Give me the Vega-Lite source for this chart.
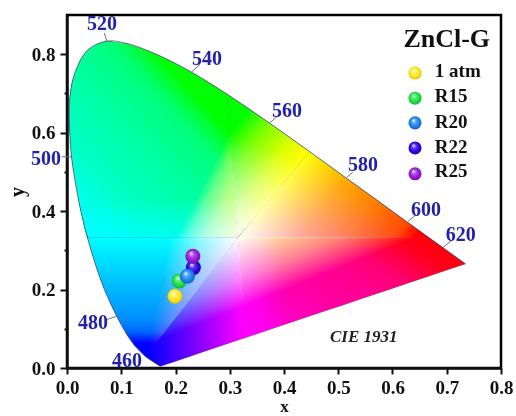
{"$schema":"https://vega.github.io/schema/vega-lite/v6.json","width":434,"height":353,"autosize":{"type":"none"},"padding":{"left":67,"top":15,"right":15,"bottom":48},"background":"white","view":{"stroke":"black","strokeWidth":2.5},
"datasets":{
"base":[{"x":0.0039,"up":0.6548,"lo":0.6548},{"x":0.005,"up":0.688,"lo":0.6},{"x":0.0082,"up":0.722,"lo":0.5384},{"x":0.0139,"up":0.7502,"lo":0.488},{"x":0.0235,"up":0.783,"lo":0.4127},{"x":0.0335,"up":0.803,"lo":0.35},{"x":0.0385,"up":0.811,"lo":0.329},{"x":0.0454,"up":0.817,"lo":0.295},{"x":0.0568,"up":0.8265,"lo":0.2455},{"x":0.0687,"up":0.8318,"lo":0.2007},{"x":0.0743,"up":0.8338,"lo":0.1838},{"x":0.08,"up":0.833,"lo":0.165},{"x":0.0913,"up":0.8306,"lo":0.1327},{"x":0.1096,"up":0.8271,"lo":0.0868},{"x":0.1241,"up":0.8212,"lo":0.0578},{"x":0.144,"up":0.8113,"lo":0.0297},{"x":0.1566,"up":0.8047,"lo":0.0177},{"x":0.1644,"up":0.7997,"lo":0.0109},{"x":0.1714,"up":0.7953,"lo":0.0051},{"x":0.1741,"up":0.7936,"lo":0.005},{"x":0.1929,"up":0.7816,"lo":0.0137},{"x":0.2296,"up":0.7543,"lo":0.0308},{"x":0.2658,"up":0.7243,"lo":0.0476},{"x":0.3016,"up":0.6923,"lo":0.0642},{"x":0.3373,"up":0.6589,"lo":0.0808},{"x":0.3731,"up":0.6245,"lo":0.0974},{"x":0.4087,"up":0.5896,"lo":0.1139},{"x":0.4441,"up":0.5547,"lo":0.1304},{"x":0.4788,"up":0.5202,"lo":0.1465},{"x":0.5125,"up":0.4866,"lo":0.1621},{"x":0.5448,"up":0.4544,"lo":0.1771},{"x":0.5752,"up":0.4242,"lo":0.1912},{"x":0.6029,"up":0.3965,"lo":0.2041},{"x":0.627,"up":0.3725,"lo":0.2153},{"x":0.6658,"up":0.334,"lo":0.2333},{"x":0.6915,"up":0.3083,"lo":0.2452},{"x":0.7079,"up":0.292,"lo":0.2528},{"x":0.719,"up":0.2809,"lo":0.258},{"x":0.726,"up":0.274,"lo":0.2612},{"x":0.7347,"up":0.2653,"lo":0.2653}],
"secA":[{"x":0.0039,"up":0.6548,"lo":0.6548},{"x":0.005,"up":0.688,"lo":0.6},{"x":0.0082,"up":0.722,"lo":0.5384},{"x":0.0139,"up":0.7502,"lo":0.488},{"x":0.0235,"up":0.783,"lo":0.4127},{"x":0.0335,"up":0.803,"lo":0.35},{"x":0.0385,"up":0.811,"lo":0.3322},{"x":0.0454,"up":0.817,"lo":0.3322},{"x":0.0568,"up":0.8265,"lo":0.3322},{"x":0.0687,"up":0.8318,"lo":0.3322},{"x":0.0743,"up":0.8338,"lo":0.3322},{"x":0.0913,"up":0.8306,"lo":0.3322},{"x":0.1096,"up":0.8271,"lo":0.3322},{"x":0.1241,"up":0.8212,"lo":0.3322},{"x":0.144,"up":0.8113,"lo":0.3322},{"x":0.1547,"up":0.8059,"lo":0.3322},{"x":0.1741,"up":0.7936,"lo":0.3322},{"x":0.1929,"up":0.7816,"lo":0.3322},{"x":0.2296,"up":0.7543,"lo":0.3322},{"x":0.2658,"up":0.7243,"lo":0.3322},{"x":0.295,"up":0.698,"lo":0.3322},{"x":0.315,"up":0.333,"lo":0.3322}],
"secF":[{"x":0.2943,"up":0.6985,"lo":0.6985},{"x":0.3016,"up":0.6923,"lo":0.5648},{"x":0.3143,"up":0.6805,"lo":0.3322},{"x":0.3373,"up":0.6589,"lo":0.3688},{"x":0.3731,"up":0.6245,"lo":0.4282},{"x":0.4087,"up":0.5896,"lo":0.4873},{"x":0.4441,"up":0.5547,"lo":0.546},{"x":0.447,"up":0.5518,"lo":0.5518}],
"secT1":[{"x":0.315,"up":0.333,"lo":0.333},{"x":0.3373,"up":0.37,"lo":0.333},{"x":0.3731,"up":0.4294,"lo":0.333},{"x":0.4087,"up":0.4885,"lo":0.333},{"x":0.4441,"up":0.5472,"lo":0.333},{"x":0.447,"up":0.5518,"lo":0.333},{"x":0.4788,"up":0.5202,"lo":0.333},{"x":0.5125,"up":0.4866,"lo":0.333},{"x":0.5448,"up":0.4544,"lo":0.333},{"x":0.5752,"up":0.4242,"lo":0.333},{"x":0.6029,"up":0.3965,"lo":0.333},{"x":0.627,"up":0.3725,"lo":0.333},{"x":0.6658,"up":0.334,"lo":0.333},{"x":0.667,"up":0.333,"lo":0.333}],
"secT2":[{"x":0.315,"up":0.3337,"lo":0.3337},{"x":0.325,"up":0.3337,"lo":0.0751},{"x":0.3373,"up":0.3337,"lo":0.0808},{"x":0.3731,"up":0.3337,"lo":0.0974},{"x":0.4441,"up":0.3337,"lo":0.1304},{"x":0.5125,"up":0.3337,"lo":0.1621},{"x":0.5752,"up":0.3337,"lo":0.1912},{"x":0.627,"up":0.3337,"lo":0.2153},{"x":0.6662,"up":0.3337,"lo":0.2336},{"x":0.6915,"up":0.3083,"lo":0.2452},{"x":0.7079,"up":0.292,"lo":0.2528},{"x":0.719,"up":0.2809,"lo":0.258},{"x":0.726,"up":0.274,"lo":0.2612},{"x":0.7347,"up":0.2653,"lo":0.2653}],
"secT3":[{"x":0.144,"up":0.0297,"lo":0.0297},{"x":0.1566,"up":0.0521,"lo":0.0177},{"x":0.1741,"up":0.0831,"lo":0.005},{"x":0.1929,"up":0.1164,"lo":0.0137},{"x":0.2296,"up":0.1815,"lo":0.0308},{"x":0.2658,"up":0.2457,"lo":0.0476},{"x":0.315,"up":0.333,"lo":0.0704},{"x":0.3157,"up":0.333,"lo":0.0707},{"x":0.3257,"up":0.0754,"lo":0.0754}],
"secBL":[{"x":0.0385,"up":0.333,"lo":0.329},{"x":0.0454,"up":0.333,"lo":0.295},{"x":0.0568,"up":0.333,"lo":0.2455},{"x":0.0687,"up":0.333,"lo":0.2007},{"x":0.08,"up":0.333,"lo":0.165},{"x":0.0913,"up":0.333,"lo":0.1327},{"x":0.1096,"up":0.333,"lo":0.0868},{"x":0.1241,"up":0.333,"lo":0.0578},{"x":0.144,"up":0.333,"lo":0.0297},{"x":0.1566,"up":0.333,"lo":0.0509},{"x":0.1741,"up":0.333,"lo":0.0819},{"x":0.1929,"up":0.333,"lo":0.1152},{"x":0.2296,"up":0.333,"lo":0.1803},{"x":0.2658,"up":0.333,"lo":0.2445},{"x":0.315,"up":0.333,"lo":0.3318}],
"locus":[{"nm":380,"x":0.1741,"y":0.005},{"nm":420,"x":0.1714,"y":0.0051},{"nm":440,"x":0.1644,"y":0.0109},{"nm":450,"x":0.1566,"y":0.0177},{"nm":460,"x":0.144,"y":0.0297},{"nm":470,"x":0.1241,"y":0.0578},{"nm":475,"x":0.1096,"y":0.0868},{"nm":480,"x":0.0913,"y":0.1327},{"nm":485,"x":0.0687,"y":0.2007},{"nm":490,"x":0.0454,"y":0.295},{"nm":495,"x":0.0235,"y":0.4127},{"nm":500,"x":0.0082,"y":0.5384},{"nm":503,"x":0.005,"y":0.6},{"nm":505,"x":0.0039,"y":0.6548},{"nm":507,"x":0.005,"y":0.688},{"nm":510,"x":0.0139,"y":0.7502},{"nm":515,"x":0.0389,"y":0.812},{"nm":520,"x":0.0743,"y":0.8338},{"nm":525,"x":0.1142,"y":0.8262},{"nm":530,"x":0.1547,"y":0.8059},{"nm":535,"x":0.1929,"y":0.7816},{"nm":540,"x":0.2296,"y":0.7543},{"nm":550,"x":0.3016,"y":0.6923},{"nm":560,"x":0.3731,"y":0.6245},{"nm":570,"x":0.4441,"y":0.5547},{"nm":580,"x":0.5125,"y":0.4866},{"nm":590,"x":0.5752,"y":0.4242},{"nm":600,"x":0.627,"y":0.3725},{"nm":620,"x":0.6915,"y":0.3083},{"nm":700,"x":0.7347,"y":0.2653}],
"wl":[{"t":"520","x":0.0645,"y":0.876,"ax":0.0737,"ay":0.833,"bx":0.0687,"by":0.854},{"t":"540","x":0.258,"y":0.787,"ax":0.2298,"ay":0.755,"bx":0.245,"by":0.7735},{"t":"560","x":0.4055,"y":0.655,"ax":0.374,"ay":0.6255,"bx":0.3865,"by":0.64},{"t":"580","x":0.5456,"y":0.518,"ax":0.5155,"ay":0.486,"bx":0.5266,"by":0.4986},{"t":"600","x":0.6617,"y":0.404,"ax":0.629,"ay":0.374,"bx":0.6427,"by":0.39},{"t":"620","x":0.726,"y":0.34,"ax":0.6936,"ay":0.308,"bx":0.709,"by":0.325},{"t":"500","x":-0.0387,"y":0.533,"ax":0.0087,"ay":0.5385,"bx":-0.0098,"by":0.5385},{"t":"480","x":0.048,"y":0.114,"ax":0.0916,"ay":0.132,"bx":0.0743,"by":0.1237},{"t":"460","x":0.1106,"y":0.018,"ax":0.1106,"ay":0.018,"bx":0.1106,"by":0.018}],
"pts":[{"s":"1 atm","kind":"data","x":0.199,"y":0.183},{"s":"1 atm","kind":"key","x":0.6415,"y":0.752},{"s":"R15","kind":"data","x":0.207,"y":0.222},{"s":"R15","kind":"key","x":0.6415,"y":0.688},{"s":"R20","kind":"data","x":0.222,"y":0.234},{"s":"R20","kind":"key","x":0.6415,"y":0.625},{"s":"R22","kind":"data","x":0.233,"y":0.256},{"s":"R22","kind":"key","x":0.6415,"y":0.561},{"s":"R25","kind":"data","x":0.232,"y":0.285},{"s":"R25","kind":"key","x":0.6415,"y":0.495}],
"keytext":[{"t":"1 atm","x":0.678,"y":0.757},{"t":"R15","x":0.678,"y":0.693},{"t":"R20","x":0.678,"y":0.627},{"t":"R22","x":0.678,"y":0.564},{"t":"R25","x":0.678,"y":0.503}]
},
"layer":[
{"encoding":{"x":{"field":"x","type":"quantitative","scale":{"domain":[0,0.8],"nice":false,"zero":false},"title":"x","axis":{"values":[0,0.05,0.1,0.15,0.2,0.25,0.3,0.35,0.4,0.45,0.5,0.55,0.6,0.65,0.7,0.75,0.8],"labelExpr":"round(datum.value*100)%10==0 ? format(datum.value,'.1f') : ''","labelOverlap":false,"labelFlush":false,"labelFont":"Liberation Serif","labelFontWeight":"bold","labelFontSize":19,"labelColor":"#111111","labelPadding":4,"tickColor":"#111111","tickWidth":2,"tickSize":{"condition":{"test":"round(datum.value*100)%10==0","value":6},"value":3},"domainColor":"#111111","domainWidth":2.5,"grid":false,"titleFont":"Liberation Serif","titleFontWeight":"bold","titleFontSize":17,"titleColor":"#111111","titlePadding":1}},"y":{"field":"up","type":"quantitative","scale":{"domain":[0,0.9],"nice":false,"zero":false},"title":"y","axis":{"values":[0,0.1,0.2,0.3,0.4,0.5,0.6,0.7,0.8],"labelExpr":"round(datum.value*10)%2==0 ? format(datum.value,'.1f') : ''","labelOverlap":false,"labelFlush":false,"labelFont":"Liberation Serif","labelFontWeight":"bold","labelFontSize":19,"labelColor":"#111111","labelPadding":5,"tickColor":"#111111","tickWidth":2,"tickSize":{"condition":{"test":"round(datum.value*10)%2==0","value":7},"value":3},"domainColor":"#111111","domainWidth":2.5,"grid":false,"titleFont":"Liberation Serif","titleFontWeight":"bold","titleFontSize":20,"titleColor":"#111111","titlePadding":4}},"y2":{"field":"lo"}},
"layer":[
{"data":{"name":"base"},"mark":{"type":"area","color":"#000000","opacity":1}},
{"data":{"name":"secA"},"mark":{"type":"area","blend":"screen","color":"#00ff00"}},
{"data":{"name":"secA"},"mark":{"type":"area","blend":"screen","color":{"gradient":"linear","x1":0.9518,"y1":0.4668,"x2":1.222,"y2":0.628,"stops":[{"offset":0,"color":"#000000"},{"offset":0.2,"color":"#660000"},{"offset":0.5,"color":"#b80000"},{"offset":1,"color":"#ff0000"}]}}},
{"data":{"name":"secA"},"mark":{"type":"area","blend":"screen","color":{"gradient":"linear","x1":0.9518,"y1":0.4668,"x2":0.304,"y2":1.161,"stops":[{"offset":0,"color":"#000000"},{"offset":0.077,"color":"#000040"},{"offset":0.154,"color":"#000073"},{"offset":0.231,"color":"#000085"},{"offset":0.415,"color":"#0000a3"},{"offset":0.723,"color":"#0000c7"},{"offset":1,"color":"#0000ff"}]}}},
{"data":{"name":"secA"},"mark":{"type":"area","blend":"screen","color":{"gradient":"linear","x1":0.5,"y1":0.806,"x2":0.5,"y2":1,"stops":[{"offset":0,"color":"#000000"},{"offset":1,"color":"#0000c0"}]}}},
{"data":{"name":"secF"},"mark":{"type":"area","blend":"screen","color":"#00ff00"}},
{"data":{"name":"secF"},"mark":{"type":"area","blend":"screen","color":{"gradient":"linear","x1":0.0329,"y1":0.2685,"x2":0.407,"y2":0.81,"stops":[{"offset":0,"color":"#000000"},{"offset":0.34,"color":"#800000"},{"offset":0.74,"color":"#e00000"},{"offset":1,"color":"#ff0000"}]}}},
{"data":{"name":"secF"},"mark":{"type":"area","blend":"screen","color":{"gradient":"linear","x1":0.0329,"y1":0.2685,"x2":-0.109,"y2":0.95,"stops":[{"offset":0,"color":"#000000"},{"offset":0.36,"color":"#000066"},{"offset":1,"color":"#0000ff"}]}}},
{"data":{"name":"secT1"},"mark":{"type":"area","blend":"screen","color":"#ff0000"}},
{"data":{"name":"secT1"},"mark":{"type":"area","blend":"screen","color":{"gradient":"linear","x1":0.9233,"y1":1.0137,"x2":0.109,"y2":0.709,"stops":[{"offset":0,"color":"#000000"},{"offset":0.12,"color":"#004d00"},{"offset":0.4,"color":"#008000"},{"offset":0.65,"color":"#00a800"},{"offset":1,"color":"#00ff00"}]}}},
{"data":{"name":"secT1"},"mark":{"type":"area","blend":"screen","color":{"gradient":"linear","x1":0.375,"y1":0,"x2":-0.334,"y2":0.383,"stops":[{"offset":0,"color":"#000000"},{"offset":1,"color":"#0000ff"}]}}},
{"data":{"name":"secT2"},"mark":{"type":"area","blend":"screen","color":"#ff0000"}},
{"data":{"name":"secT2"},"mark":{"type":"area","blend":"screen","color":{"gradient":"linear","x1":0.7743,"y1":0.0116,"x2":0.4235,"y2":-0.3796,"stops":[{"offset":0,"color":"#000000"},{"offset":0.15,"color":"#003300"},{"offset":0.4,"color":"#008000"},{"offset":0.76,"color":"#00d000"},{"offset":1,"color":"#00ff00"}]}}},
{"data":{"name":"secT2"},"mark":{"type":"area","blend":"screen","color":{"gradient":"linear","x1":0.7743,"y1":0.0116,"x2":-0.2037,"y2":0.6576,"stops":[{"offset":0,"color":"#000010"},{"offset":0.062,"color":"#00001f"},{"offset":0.232,"color":"#000070"},{"offset":0.383,"color":"#00008f"},{"offset":0.553,"color":"#0000a1"},{"offset":0.735,"color":"#0000bf"},{"offset":1,"color":"#0000ff"}]}}},
{"data":{"name":"secT2"},"mark":{"type":"area","blend":"screen","color":{"gradient":"linear","x1":0.2025,"y1":0.5,"x2":0.0238,"y2":0.5,"stops":[{"offset":0,"color":"#000000"},{"offset":1,"color":"#0000c8"}]}}},
{"data":{"name":"secT3"},"mark":{"type":"area","blend":"screen","color":"#0000ff"}},
{"data":{"name":"secT3"},"mark":{"type":"area","blend":"screen","color":{"gradient":"linear","x1":0.0331,"y1":0.8323,"x2":0.998,"y2":0.7645,"stops":[{"offset":0,"color":"#000000"},{"offset":1,"color":"#ff0000"}]}}},
{"data":{"name":"secT3"},"mark":{"type":"area","blend":"screen","color":{"gradient":"linear","x1":0.0331,"y1":0.8323,"x2":-0.121,"y2":0.324,"stops":[{"offset":0,"color":"#000000"},{"offset":0.15,"color":"#003300"},{"offset":0.4,"color":"#008000"},{"offset":0.76,"color":"#00d000"},{"offset":1,"color":"#00ff00"}]}}},
{"data":{"name":"secBL"},"mark":{"type":"area","blend":"screen","color":"#0000ff"}},
{"data":{"name":"secBL"},"mark":{"type":"area","blend":"screen","color":{"gradient":"linear","x1":0.5,"y1":0.8902,"x2":0.5,"y2":0,"stops":[{"offset":0,"color":"#000000"},{"offset":0.11,"color":"#006600"},{"offset":0.22,"color":"#008c00"},{"offset":0.51,"color":"#00b800"},{"offset":1,"color":"#00ff00"}]}}},
{"data":{"name":"secBL"},"mark":{"type":"area","blend":"screen","color":{"gradient":"linear","x1":0.4033,"y1":0.8902,"x2":0.845,"y2":0.9615,"stops":[{"offset":0,"color":"#000000"},{"offset":0.44,"color":"#8c0000"},{"offset":1,"color":"#ff0000"}]}}}
]},
{"data":{"name":"locus"},"mark":{"type":"line","color":"#203060","strokeWidth":1,"opacity":0.6,"interpolate":"catmull-rom"},"encoding":{"x":{"field":"x","type":"quantitative"},"y":{"field":"y","type":"quantitative"},"order":{"field":"nm","type":"quantitative"}}},
{"data":{"name":"wl"},"mark":{"type":"rule","color":"#707080","strokeWidth":1},"encoding":{"x":{"field":"ax","type":"quantitative"},"y":{"field":"ay","type":"quantitative"},"x2":{"field":"bx"},"y2":{"field":"by"}}},
{"data":{"name":"wl"},"mark":{"type":"text","font":"Liberation Serif","fontWeight":"bold","fontSize":20,"color":"#2222a8","align":"center","baseline":"middle"},"encoding":{"x":{"field":"x","type":"quantitative"},"y":{"field":"y","type":"quantitative"},"text":{"field":"t"}}},
{"data":{"name":"pts"},"transform":[{"filter":"datum.s=='R22'"}],"mark":{"type":"circle","opacity":1,"color":{"gradient":"radial","x1":0.38,"y1":0.3,"r1":0,"x2":0.5,"y2":0.5,"r2":0.55,"stops":[{"offset":0,"color":"#ffffff"},{"offset":0.3,"color":"#5a40f0"},{"offset":0.65,"color":"#3400e0"},{"offset":1,"color":"#2000a0"}]}},"encoding":{"x":{"field":"x","type":"quantitative"},"y":{"field":"y","type":"quantitative"},"size":{"field":"kind","type":"nominal","scale":{"domain":["data","key"],"range":[225,170]},"legend":null}}},
{"data":{"name":"pts"},"transform":[{"filter":"datum.s=='R25'"}],"mark":{"type":"circle","opacity":1,"color":{"gradient":"radial","x1":0.38,"y1":0.3,"r1":0,"x2":0.5,"y2":0.5,"r2":0.55,"stops":[{"offset":0,"color":"#ffffff"},{"offset":0.3,"color":"#b050e8"},{"offset":0.65,"color":"#9a18d8"},{"offset":1,"color":"#6a0ca0"}]}},"encoding":{"x":{"field":"x","type":"quantitative"},"y":{"field":"y","type":"quantitative"},"size":{"field":"kind","type":"nominal","scale":{"domain":["data","key"],"range":[225,170]},"legend":null}}},
{"data":{"name":"pts"},"transform":[{"filter":"datum.s=='R15'"}],"mark":{"type":"circle","opacity":1,"color":{"gradient":"radial","x1":0.38,"y1":0.3,"r1":0,"x2":0.5,"y2":0.5,"r2":0.55,"stops":[{"offset":0,"color":"#ffffff"},{"offset":0.3,"color":"#50f070"},{"offset":0.65,"color":"#20e040"},{"offset":1,"color":"#10a830"}]}},"encoding":{"x":{"field":"x","type":"quantitative"},"y":{"field":"y","type":"quantitative"},"size":{"field":"kind","type":"nominal","scale":{"domain":["data","key"],"range":[225,170]},"legend":null}}},
{"data":{"name":"pts"},"transform":[{"filter":"datum.s=='R20'"}],"mark":{"type":"circle","opacity":1,"color":{"gradient":"radial","x1":0.38,"y1":0.3,"r1":0,"x2":0.5,"y2":0.5,"r2":0.55,"stops":[{"offset":0,"color":"#ffffff"},{"offset":0.3,"color":"#50a8f8"},{"offset":0.65,"color":"#2080f0"},{"offset":1,"color":"#1058b0"}]}},"encoding":{"x":{"field":"x","type":"quantitative"},"y":{"field":"y","type":"quantitative"},"size":{"field":"kind","type":"nominal","scale":{"domain":["data","key"],"range":[225,170]},"legend":null}}},
{"data":{"name":"pts"},"transform":[{"filter":"datum.s=='1 atm'"}],"mark":{"type":"circle","opacity":1,"color":{"gradient":"radial","x1":0.38,"y1":0.3,"r1":0,"x2":0.5,"y2":0.5,"r2":0.55,"stops":[{"offset":0,"color":"#ffffff"},{"offset":0.3,"color":"#fff060"},{"offset":0.65,"color":"#ffe81a"},{"offset":1,"color":"#d8b800"}]}},"encoding":{"x":{"field":"x","type":"quantitative"},"y":{"field":"y","type":"quantitative"},"size":{"field":"kind","type":"nominal","scale":{"domain":["data","key"],"range":[225,170]},"legend":null}}},
{"data":{"name":"keytext"},"mark":{"type":"text","font":"Liberation Serif","fontWeight":"bold","fontSize":19,"color":"#111111","align":"left","baseline":"middle"},"encoding":{"x":{"field":"x","type":"quantitative"},"y":{"field":"y","type":"quantitative"},"text":{"field":"t"}}},
{"data":{"values":[{"t":"ZnCl-G","x":0.7,"y":0.838}]},"mark":{"type":"text","font":"Liberation Serif","fontWeight":"bold","fontSize":26,"color":"#111111","align":"center","baseline":"middle"},"encoding":{"x":{"field":"x","type":"quantitative"},"y":{"field":"y","type":"quantitative"},"text":{"field":"t"}}},
{"data":{"values":[{"t":"CIE 1931","x":0.547,"y":0.079}]},"mark":{"type":"text","font":"Liberation Serif","fontWeight":"bold","fontStyle":"italic","fontSize":17,"color":"#222222","align":"center","baseline":"middle"},"encoding":{"x":{"field":"x","type":"quantitative"},"y":{"field":"y","type":"quantitative"},"text":{"field":"t"}}}
]}
